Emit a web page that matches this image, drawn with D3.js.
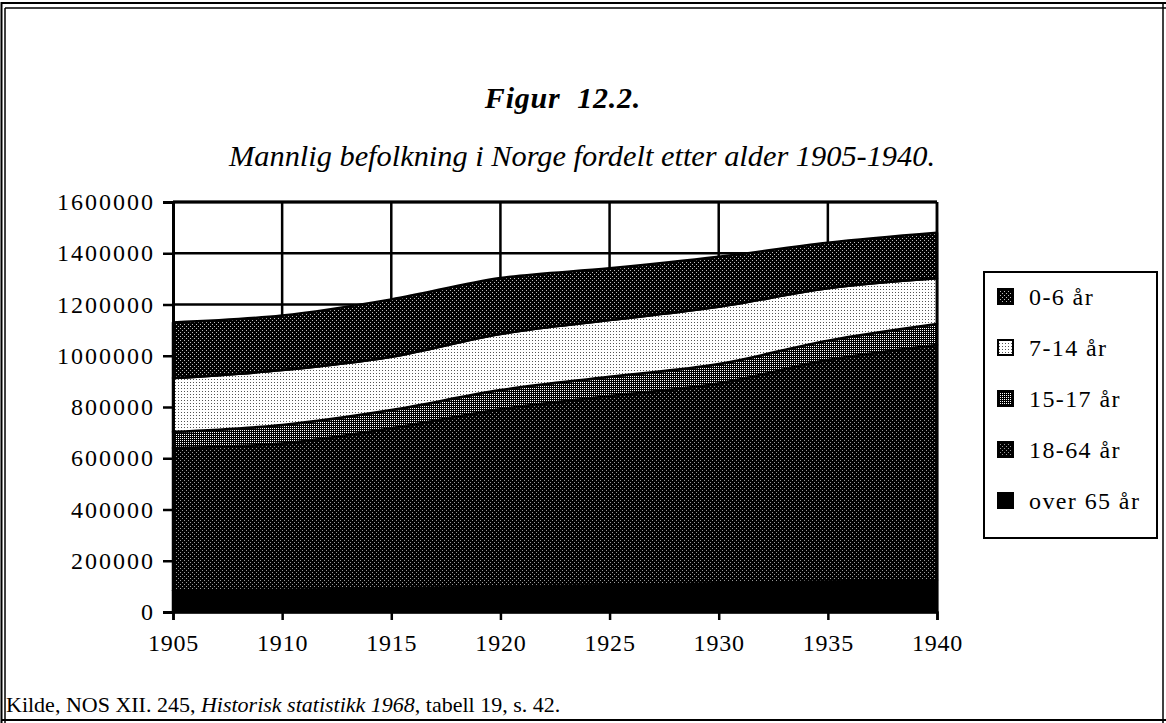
<!DOCTYPE html>
<html>
<head>
<meta charset="utf-8">
<script src="https://cdn.jsdelivr.net/npm/d3@7"></script>
<style>
  html, body { margin: 0; padding: 0; background: #fff; }
  svg { display: block; }
  text { font-family: "Liberation Serif", "DejaVu Serif", serif; fill: #000; }
</style>
</head>
<body>
<svg id="chart" width="1166" height="723"></svg>
<script>
// Male population of Norway by age group (persons)
const years      = [1905, 1910, 1915, 1920, 1925, 1930, 1935, 1940];
const age0to6    = [217000, 213000, 224000, 218000, 202000, 195000, 178000, 178000];
const age7to14   = [210000, 214000, 208000, 219000, 221000, 223000, 204000, 178000];
const age15to17  = [63000, 72000, 71000, 75000, 75000, 76000, 76000, 82000];
const age18to64  = [556000, 572000, 624000, 692000, 739000, 780000, 864000, 917000];
const age65plus  = [84000, 86000, 93000, 99000, 104000, 112000, 119000, 125000];

const yTicks = [0, 200000, 400000, 600000, 800000, 1000000, 1200000, 1400000, 1600000];
const xTicks = [1905, 1910, 1915, 1920, 1925, 1930, 1935, 1940];

// stacking order: bottom to top
const seriesKeys   = ["over65", "a18", "a15", "a7", "a0"];
const seriesNames  = {a0: "0-6 år", a7: "7-14 år", a15: "15-17 år", a18: "18-64 år", over65: "over 65 år"};
const legendOrder  = ["a0", "a7", "a15", "a18", "over65"];

const rows = years.map((y, i) => ({
  year: y,
  a0: age0to6[i], a7: age7to14[i], a15: age15to17[i], a18: age18to64[i], over65: age65plus[i]
}));

const svg = d3.select("#chart");

// halftone-style fills built from single pixels
const defs = svg.append("defs");
function pixelPattern(id, size, bg, fg, pixels) {
  const p = defs.append("pattern").attr("id", id)
    .attr("patternUnits", "userSpaceOnUse").attr("width", size).attr("height", size);
  p.append("rect").attr("width", size).attr("height", size).attr("fill", bg);
  pixels.forEach(([px, py]) =>
    p.append("rect").attr("x", px).attr("y", py).attr("width", 1).attr("height", 1)
      .attr("fill", fg).attr("shape-rendering", "crispEdges"));
}
pixelPattern("pat-a0", 4, "#000", "#bbb", [[0, 0], [2, 2]]);
pixelPattern("pat-a18", 4, "#000", "#999", [[0, 0], [2, 2]]);
pixelPattern("pat-a15", 2, "#000", "#fff", [[0, 0]]);
pixelPattern("pat-a7", 3, "#fff", "#555", [[1, 1]]);
const fills = {a0: "url(#pat-a0)", a7: "url(#pat-a7)", a15: "url(#pat-a15)", a18: "url(#pat-a18)", over65: "#000"};

// page frame
const frame = svg.append("g").attr("fill", "none").attr("stroke", "#000");
frame.append("line").attr("x1", 1.5).attr("x2", 1.5).attr("y1", 2).attr("y2", 723).attr("stroke-width", 2);
frame.append("line").attr("x1", 5).attr("x2", 5).attr("y1", 8).attr("y2", 723).attr("stroke-width", 1.5);
frame.append("line").attr("x1", 1).attr("x2", 1166).attr("y1", 3).attr("y2", 3).attr("stroke-width", 2);
frame.append("line").attr("x1", 5).attr("x2", 1166).attr("y1", 8).attr("y2", 8).attr("stroke-width", 1.5);
frame.append("line").attr("x1", 1163).attr("x2", 1163).attr("y1", 3).attr("y2", 723).attr("stroke-width", 1.5);
frame.append("line").attr("x1", 1).attr("x2", 1166).attr("y1", 720).attr("y2", 720).attr("stroke-width", 2);

// titles
svg.append("text").attr("x", 563).attr("y", 108).attr("text-anchor", "middle")
  .attr("font-size", 30).attr("font-style", "italic").attr("font-weight", "bold")
  .attr("letter-spacing", 0.8)
  .text("Figur\u00a0\u00a012.2.");
svg.append("text").attr("x", 582).attr("y", 166).attr("text-anchor", "middle")
  .attr("font-size", 30).attr("font-style", "italic")
  .attr("textLength", 706).attr("lengthAdjust", "spacingAndGlyphs")
  .text("Mannlig befolkning i Norge fordelt etter alder 1905-1940.");

// scales
const x = d3.scaleLinear().domain([1905, 1940]).range([173, 937]);
const y = d3.scaleLinear().domain([0, 1600000]).range([612, 202]);

const plot = svg.append("g");

// grid
plot.append("g").selectAll("line").data(yTicks.filter(d => d > 0)).join("line")
  .attr("x1", x(1905)).attr("x2", x(1940)).attr("y1", d => y(d)).attr("y2", d => y(d))
  .attr("stroke", "#000").attr("stroke-width", 2.5);
plot.append("g").selectAll("line").data(xTicks.filter(d => d > 1905)).join("line")
  .attr("x1", d => x(d)).attr("x2", d => x(d)).attr("y1", y(0)).attr("y2", y(1600000))
  .attr("stroke", "#000").attr("stroke-width", 2.5);

// stacked areas
const stack = d3.stack().keys(seriesKeys);
const layers = stack(rows);
const area = d3.area()
  .x(d => x(d.data.year))
  .y0(d => y(d[0]))
  .y1(d => y(d[1]))
  .curve(d3.curveMonotoneX);
plot.append("g").selectAll("path").data(layers).join("path")
  .attr("d", area)
  .attr("fill", d => fills[d.key])
  .attr("stroke", "#000").attr("stroke-width", 2.5).attr("stroke-linejoin", "round");

// axes
const yAxis = d3.axisLeft(y).tickValues(yTicks).tickSize(10).tickPadding(8).tickFormat(d3.format("d"));
const gy = plot.append("g").attr("transform", `translate(${x(1905)},0)`).call(yAxis);
gy.select(".domain").attr("stroke-width", 3);
gy.selectAll(".tick line").attr("stroke-width", 2.5);
gy.selectAll(".tick text").attr("font-size", 24).attr("letter-spacing", 2);

const xAxis = d3.axisBottom(x).tickValues(xTicks).tickSize(8).tickPadding(14).tickFormat(d3.format("d"));
const gx = plot.append("g").attr("transform", `translate(0,${y(0)})`).call(xAxis);
gx.select(".domain").attr("stroke-width", 2.5);
gx.selectAll(".tick line").attr("stroke-width", 2.5);
gx.selectAll(".tick text").attr("font-size", 24).attr("letter-spacing", 0.8);

// frame of the plot area (top and right)
plot.append("line").attr("x1", x(1905)).attr("x2", x(1940)).attr("y1", y(1600000)).attr("y2", y(1600000))
  .attr("stroke", "#000").attr("stroke-width", 3);
plot.append("line").attr("x1", x(1940)).attr("x2", x(1940)).attr("y1", y(1600000)).attr("y2", y(0))
  .attr("stroke", "#000").attr("stroke-width", 2.5);

// legend
const lg = svg.append("g");
lg.append("rect").attr("x", 984).attr("y", 272).attr("width", 173).attr("height", 266)
  .attr("fill", "#fff").attr("stroke", "#000").attr("stroke-width", 2);
const items = lg.selectAll("g.item").data(legendOrder).join("g").attr("class", "item")
  .attr("transform", (d, i) => `translate(998,${297 + i * 51})`);
items.append("rect").attr("x", 0).attr("y", -8).attr("width", 15).attr("height", 15)
  .attr("fill", d => fills[d]).attr("stroke", "#000").attr("stroke-width", 2);
items.append("text").attr("x", 31).attr("y", 8).attr("font-size", 24)
  .attr("letter-spacing", 1.4)
  .text(d => seriesNames[d]);

// source note
const note = svg.append("text").attr("x", 6).attr("y", 712).attr("font-size", 22);
note.append("tspan").text("Kilde, NOS XII. 245, ");
note.append("tspan").attr("font-style", "italic").text("Historisk statistikk 1968");
note.append("tspan").text(", tabell 19, s. 42.");
</script>
</body>
</html>
